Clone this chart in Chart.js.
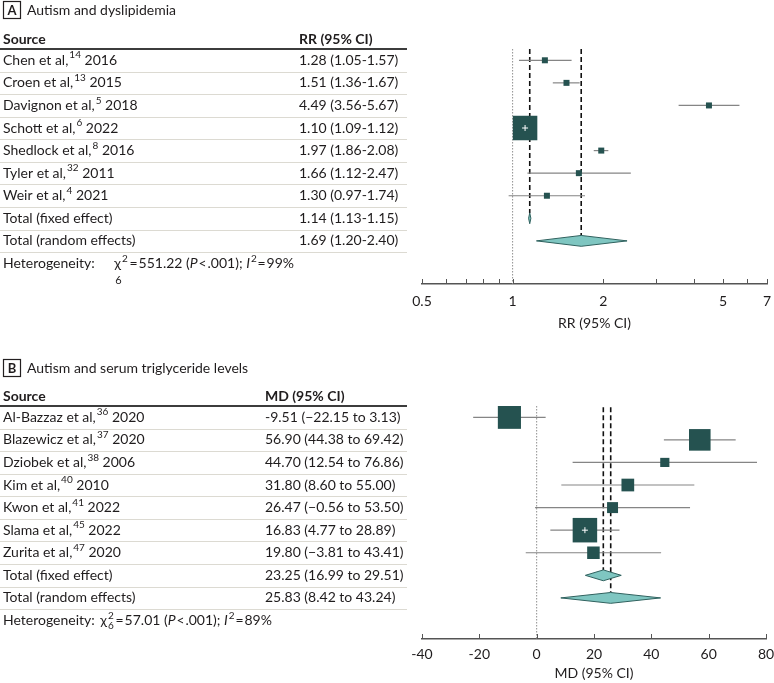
<!DOCTYPE html>
<html>
<head>
<meta charset="utf-8">
<script src="https://cdn.jsdelivr.net/npm/chart.js@4.4.1/dist/chart.umd.min.js"></script>
<style>
  body { margin: 0; background: #fff; overflow: hidden; }
  .panel { position: absolute; left: 0; }
  canvas { display: block; }
  #wrapA { top: 0; }
  #wrapB { top: 340px; }
</style>
</head>
<body>
<div class="panel" id="wrapA"><canvas id="chartA" width="774" height="340"></canvas></div>
<div class="panel" id="wrapB"><canvas id="chartB" width="774" height="343"></canvas></div>
<script>
// ---- panel A: autism and dyslipidemia (RR, log scale)
const sourcesA = ['Chen et al,', 'Croen et al,', 'Davignon et al,', 'Schott et al,', 'Shedlock et al,', 'Tyler et al,', 'Weir et al,'];
const refsA = ['14', '13', '5', '6', '8', '32', '4'];
const yearsA = ['2016', '2015', '2018', '2022', '2016', '2011', '2021'];
const rrA = [1.28, 1.51, 4.49, 1.10, 1.97, 1.66, 1.30];
const loA = [1.05, 1.36, 3.56, 1.09, 1.86, 1.12, 0.97];
const hiA = [1.57, 1.67, 5.67, 1.12, 2.08, 2.47, 1.74];
const weightsA = [0.4, 1.6, 0.3, 91.1, 5.4, 0.1, 0.2];
const fixedA = [1.14, 1.13, 1.15];
const randomA = [1.69, 1.20, 2.40];
const hetA = { chi2: '551.22', df: '6', p: '.001', i2: '99%' };
const ticksA = [0.5, 0.6, 0.7, 0.8, 0.9, 1, 2, 3, 4, 5, 6, 7];
const tickLabelsA = [0.5, 1, 2, 5, 7];

// ---- panel B: autism and serum triglyceride levels (MD)
const sourcesB = ['Al-Bazzaz et al,', 'Blazewicz et al,', 'Dziobek et al,', 'Kim et al,', 'Kwon et al,', 'Slama et al,', 'Zurita et al,'];
const refsB = ['36', '37', '38', '40', '41', '45', '47'];
const yearsB = ['2020', '2020', '2006', '2010', '2022', '2022', '2020'];
const mdB = [-9.51, 56.90, 44.70, 31.80, 26.47, 16.83, 19.80];
const loB = [-22.15, 44.38, 12.54, 8.60, -0.56, 4.77, -3.81];
const hiB = [3.13, 69.42, 76.86, 55.00, 53.50, 28.89, 43.41];
const weightsB = [23.5, 20.5, 3.7, 7.1, 5.3, 26.4, 6.9];
const fixedB = [23.25, 16.99, 29.51];
const randomB = [25.83, 8.42, 43.24];
const hetB = { chi2: '57.01', df: '6', p: '.001', i2: '89%' };
const ticksB = [-40, -20, 0, 20, 40, 60, 80];
const tickLabelsB = [-40, -20, 0, 20, 40, 60, 80];

const FONT = 'Lato';
const FS = 14;
const TXT = '#1f1c1d';
const SQUARE = '#255250';
const DIAMOND = '#7fc6c1';
const DIAMOND_EDGE = '#2f615e';
const CI_LINE = '#858585';

function fmtNeg(v) { return v < 0 ? '\u2212' + Math.abs(v).toFixed(2) : v.toFixed(2); }

function drawSegs(ctx, segs, x, y, size) {
  segs.forEach(s => {
    const small = s.sup || s.sub;
    const sz = small ? Math.round(size * 0.74) : size;
    ctx.font = (s.it ? 'italic ' : '') + (s.bold ? 'bold ' : '') + sz + 'px ' + FONT;
    let w;
    if (s.sup) {
      ctx.fillText(s.t, x, y - size * 0.36);
      w = ctx.measureText(s.t).width;
      if (s.sub) {
        ctx.fillText(s.sub, x, y + size * 0.4);
        w = Math.max(w, ctx.measureText(s.sub).width);
      }
    } else {
      ctx.fillText(s.t, x, y);
      w = ctx.measureText(s.t).width;
    }
    x += w + (s.gap || 0);
  });
  return x;
}

function tablePlugin(cfg) {
  return {
    id: 'forestTable' + cfg.letter,
    afterDraw(chart) {
      const ctx = chart.ctx;
      const y = chart.scales.y;
      const x = chart.scales.x;
      ctx.save();
      ctx.fillStyle = TXT;
      ctx.textBaseline = 'middle';
      ctx.textAlign = 'left';

      // panel letter box and title
      ctx.strokeStyle = '#231f20';
      ctx.lineWidth = 1.2;
      ctx.strokeRect(3.5, cfg.titleY - 8.5, 17, 17);
      ctx.font = 'bold 13px ' + FONT;
      ctx.textAlign = 'center';
      ctx.fillText(cfg.letter, 12, cfg.titleY + 0.5);
      ctx.textAlign = 'left';
      ctx.font = FS + 'px ' + FONT;
      ctx.fillText(cfg.title, 27, cfg.titleY);

      // header
      const top = y.getPixelForValue(-0.5);
      ctx.font = 'bold ' + FS + 'px ' + FONT;
      ctx.fillText('Source', 3, top - 10);
      ctx.fillText(cfg.header, cfg.ciX, top - 10);

      // separators
      ctx.strokeStyle = '#dcdad2';
      ctx.lineWidth = 1;
      for (let i = 0; i < cfg.sources.length + 2; i++) {
        const yy = Math.round(y.getPixelForValue(i + 0.5)) + 0.5;
        ctx.beginPath(); ctx.moveTo(0, yy); ctx.lineTo(407, yy); ctx.stroke();
      }
      ctx.strokeStyle = '#3c3c3c';
      ctx.lineWidth = 2;
      ctx.beginPath(); ctx.moveTo(0, top); ctx.lineTo(407, top); ctx.stroke();

      // rows
      ctx.fillStyle = TXT;
      cfg.sources.forEach((s, i) => {
        const yy = y.getPixelForValue(i);
        drawSegs(ctx, [{ t: s, gap: 1 }, { t: cfg.refs[i], sup: true }, { t: ' ' + cfg.years[i] }], 3, yy, FS);
        ctx.font = FS + 'px ' + FONT;
        ctx.fillText(cfg.ciText[i], cfg.ciX, yy);
      });
      const n = cfg.sources.length;
      ctx.font = FS + 'px ' + FONT;
      ctx.fillText('Total (fixed effect)', 3, y.getPixelForValue(n));
      ctx.fillText(cfg.fixedText, cfg.ciX, y.getPixelForValue(n));
      ctx.fillText('Total (random effects)', 3, y.getPixelForValue(n + 1));
      ctx.fillText(cfg.randomText, cfg.ciX, y.getPixelForValue(n + 1));

      // heterogeneity
      const hy = y.getPixelForValue(n + 2);
      const h = cfg.het;
      const chiX = drawSegs(ctx, [{ t: 'Heterogeneity: ', gap: cfg.chiGap }], 3, hy, FS);
      let xx = drawSegs(ctx, [{ t: '\u03c7', gap: 1 }], chiX, hy, FS);
      if (cfg.dropSub) {
        ctx.font = '11px ' + FONT;
        ctx.fillText(h.df, chiX + 1, hy + 17);
        xx = drawSegs(ctx, [{ t: '2', sup: true }], xx, hy, FS);
      } else {
        xx = drawSegs(ctx, [{ t: '2', sup: true, sub: h.df }], xx, hy, FS);
      }
      drawSegs(ctx, [
        { t: '\u2009=\u200a' + h.chi2 + ' (' }, { t: 'P', it: true }, { t: '\u200a<\u200a' + h.p + '); ' },
        { t: 'I', it: true, gap: 1 }, { t: '2', sup: true }, { t: '\u200a=\u200a' + h.i2 }
      ], xx, hy, FS);

      // upward tick marks on the axis
      const ay = x.top;
      ctx.strokeStyle = '#555';
      ctx.lineWidth = 1;
      x.ticks.forEach(t => {
        const px = Math.round(x.getPixelForValue(t.value)) + 0.5;
        ctx.beginPath(); ctx.moveTo(px, ay); ctx.lineTo(px, ay - 5); ctx.stroke();
      });
      ctx.restore();
    }
  };
}

function buildChart(id, p) {
  const n = p.est.length;
  const wmax = Math.max(...p.weights);
  const sides = p.weights.map(w => Math.max(6, 24.5 * Math.sqrt(w / wmax)));
  const best = p.weights.indexOf(wmax);
  const half = 0.24;
  const fixedRow = n, randomRow = n + 1;
  const datasets = [];

  datasets.push({
    data: [{ x: p.est[best], y: best }],
    pointStyle: 'cross', pointRadius: 3, borderColor: '#fff', borderWidth: 1, order: 0
  });
  datasets.push({
    data: p.est.map((v, i) => ({ x: v, y: i })),
    pointStyle: 'rect', pointRadius: sides.map(s => s / Math.SQRT2),
    backgroundColor: SQUARE, borderWidth: 0, order: 1
  });
  [[p.fixed, fixedRow], [p.random, randomRow]].forEach(([d, r]) => {
    datasets.push({
      data: [{ x: d[1], y: r }, { x: d[0], y: r - half }, { x: d[2], y: r }, { x: d[0], y: r + half }, { x: d[1], y: r }],
      showLine: true, fill: 'shape', backgroundColor: DIAMOND, borderColor: DIAMOND_EDGE,
      borderWidth: 1, pointRadius: 0, order: 2
    });
  });
  p.est.forEach((v, i) => {
    datasets.push({
      data: [{ x: p.lo[i], y: i }, { x: p.hi[i], y: i }],
      showLine: true, borderColor: CI_LINE, borderWidth: 1.2, pointRadius: 0, order: 3
    });
  });
  [[p.fixed[0], fixedRow], [p.random[0], randomRow]].forEach(([v, r]) => {
    datasets.push({
      data: [{ x: v, y: p.dashTop }, { x: v, y: r - half }],
      showLine: true, borderColor: '#111', borderWidth: 1.6, borderDash: [5, 3], pointRadius: 0, order: 4
    });
  });
  datasets.push({
    data: [{ x: p.nullValue, y: -0.5 }, { x: p.nullValue, y: p.yMax }],
    showLine: true, borderColor: '#8f8f8f', borderWidth: 1, borderDash: [1.5, 1.5], pointRadius: 0, order: 5
  });

  const ciText = p.est.map((v, i) => p.fmt(v, p.lo[i], p.hi[i]));

  return new Chart(document.getElementById(id), {
    type: 'scatter',
    data: { datasets },
    options: {
      responsive: false,
      animation: false,
      layout: { autoPadding: false, padding: { left: 422, right: p.padRight, top: p.padTop, bottom: 0 } },
      plugins: { legend: { display: false }, tooltip: { enabled: false } },
      scales: {
        x: {
          type: p.logScale ? 'logarithmic' : 'linear',
          min: p.ticks[0], max: p.ticks[p.ticks.length - 1],
          afterBuildTicks: s => { s.ticks = p.ticks.map(v => ({ value: v })); },
          afterFit: s => { s.height = p.axisHeight; s.paddingLeft = 0; s.paddingRight = 0; },
          grid: { display: false, drawTicks: false },
          border: { display: true, color: '#555', width: 1.5 },
          ticks: {
            autoSkip: false, maxRotation: 0, padding: p.tickPad, color: TXT,
            font: { family: FONT, size: 14 },
            callback: v => p.tickLabels.includes(v) ? String(v) : ''
          },
          title: {
            display: true, text: p.axisTitle, color: TXT,
            font: { family: FONT, size: 14 }, padding: { top: 0, bottom: p.titlePad }
          }
        },
        y: { type: 'linear', reverse: true, min: -0.5, max: p.yMax, display: false }
      }
    },
    plugins: [tablePlugin({
      letter: p.letter, title: p.title, titleY: p.titleY, header: p.header, ciX: p.ciX,
      sources: p.sources, refs: p.refs, years: p.years, ciText,
      fixedText: p.fmt(...p.fixed), randomText: p.fmt(...p.random),
      het: p.het, dropSub: p.dropSub, chiGap: p.chiGap
    })]
  });
}

buildChart('chartA', {
  letter: 'A', title: 'Autism and dyslipidemia', titleY: 10, header: 'RR (95% CI)', ciX: 299,
  sources: sourcesA, refs: refsA, years: yearsA,
  est: rrA, lo: loA, hi: hiA, weights: weightsA, fixed: fixedA, random: randomA, het: hetA,
  ticks: ticksA, tickLabels: tickLabelsA, logScale: true, nullValue: 1, axisTitle: 'RR (95% CI)',
  fmt: (v, l, h) => v.toFixed(2) + ' (' + l.toFixed(2) + '-' + h.toFixed(2) + ')',
  yMax: 9.91, padTop: 49, padRight: 7, axisHeight: 56, tickPad: 9, titlePad: 8,
  dropSub: true, chiGap: 16, dashTop: -0.5
});

buildChart('chartB', {
  letter: 'B', title: 'Autism and serum triglyceride levels', titleY: 28, header: 'MD (95% CI)', ciX: 265,
  sources: sourcesB, refs: refsB, years: yearsB,
  est: mdB, lo: loB, hi: hiB, weights: weightsB, fixed: fixedB, random: randomB, het: hetB,
  ticks: ticksB, tickLabels: tickLabelsB, logScale: false, nullValue: 0, axisTitle: 'MD (95% CI)',
  fmt: (v, l, h) => (v < 0 ? '-' + Math.abs(v).toFixed(2) : v.toFixed(2)) + ' (' + fmtNeg(l) + ' to ' + fmtNeg(h) + ')',
  yMax: 9.82, padTop: 66, padRight: 8, axisHeight: 44, tickPad: 7, titlePad: 1,
  dropSub: false, chiGap: 2, dashTop: -0.8
});
</script>
</body>
</html>
